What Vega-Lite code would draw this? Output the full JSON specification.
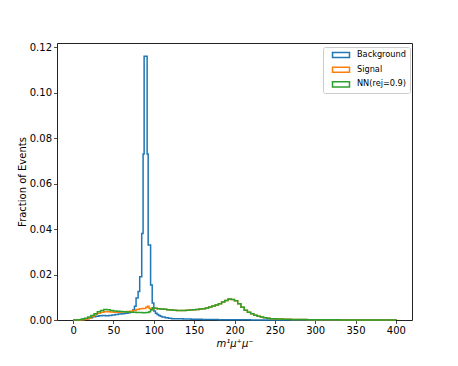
{
  "$schema": "https://vega.github.io/schema/vega-lite/v6.json",
  "width": 355,
  "height": 277,
  "autosize": "none",
  "padding": {"left": 57, "top": 43, "right": 46, "bottom": 46},
  "config": {
    "font": "DejaVu Sans",
    "view": {"stroke": "#222222", "strokeWidth": 1},
    "axis": {
      "grid": false,
      "domain": false,
      "tickColor": "#222222",
      "tickSize": 3.5,
      "tickWidth": 0.8,
      "labelFontSize": 10,
      "labelColor": "#000000",
      "labelPadding": 2,
      "titleFontSize": 10,
      "titleFontWeight": "normal",
      "titleColor": "#000000"
    }
  },
  "datasets": {
    "hist": [
      {"s": "Background", "x": 0, "y": 0},
      {"s": "Background", "x": 8, "y": 0.0001},
      {"s": "Background", "x": 12, "y": 0.0003},
      {"s": "Background", "x": 16, "y": 0.0006},
      {"s": "Background", "x": 20, "y": 0.001},
      {"s": "Background", "x": 24, "y": 0.0014},
      {"s": "Background", "x": 28, "y": 0.0017},
      {"s": "Background", "x": 32, "y": 0.0019},
      {"s": "Background", "x": 36, "y": 0.002},
      {"s": "Background", "x": 40, "y": 0.0019},
      {"s": "Background", "x": 44, "y": 0.002},
      {"s": "Background", "x": 48, "y": 0.0022},
      {"s": "Background", "x": 52, "y": 0.0024},
      {"s": "Background", "x": 56, "y": 0.0026},
      {"s": "Background", "x": 60, "y": 0.0028},
      {"s": "Background", "x": 64, "y": 0.003},
      {"s": "Background", "x": 68, "y": 0.0032},
      {"s": "Background", "x": 71, "y": 0.0036},
      {"s": "Background", "x": 74, "y": 0.0045},
      {"s": "Background", "x": 76, "y": 0.006},
      {"s": "Background", "x": 78, "y": 0.0097},
      {"s": "Background", "x": 80.5, "y": 0.0125},
      {"s": "Background", "x": 82.5, "y": 0.019},
      {"s": "Background", "x": 85, "y": 0.038},
      {"s": "Background", "x": 86.7, "y": 0.073},
      {"s": "Background", "x": 88, "y": 0.116},
      {"s": "Background", "x": 91.7, "y": 0.073},
      {"s": "Background", "x": 93, "y": 0.033},
      {"s": "Background", "x": 96, "y": 0.0154},
      {"s": "Background", "x": 98, "y": 0.0075},
      {"s": "Background", "x": 100, "y": 0.004},
      {"s": "Background", "x": 102, "y": 0.003},
      {"s": "Background", "x": 104, "y": 0.0024},
      {"s": "Background", "x": 106, "y": 0.002},
      {"s": "Background", "x": 108, "y": 0.0016},
      {"s": "Background", "x": 110, "y": 0.0013},
      {"s": "Background", "x": 114, "y": 0.001},
      {"s": "Background", "x": 118, "y": 0.0008},
      {"s": "Background", "x": 122, "y": 0.0006},
      {"s": "Background", "x": 128, "y": 0.0005},
      {"s": "Background", "x": 136, "y": 0.0004},
      {"s": "Background", "x": 146, "y": 0.0003},
      {"s": "Background", "x": 160, "y": 0.0002},
      {"s": "Background", "x": 180, "y": 0.0001},
      {"s": "Background", "x": 220, "y": 0.00005},
      {"s": "Background", "x": 300, "y": 0.00002},
      {"s": "Background", "x": 400, "y": 0},

      {"s": "Signal", "x": 0, "y": 0},
      {"s": "Signal", "x": 10, "y": 0.0001},
      {"s": "Signal", "x": 14, "y": 0.0003},
      {"s": "Signal", "x": 18, "y": 0.0008},
      {"s": "Signal", "x": 22, "y": 0.0015},
      {"s": "Signal", "x": 26, "y": 0.0024},
      {"s": "Signal", "x": 30, "y": 0.003},
      {"s": "Signal", "x": 34, "y": 0.0034},
      {"s": "Signal", "x": 38, "y": 0.0036},
      {"s": "Signal", "x": 42, "y": 0.0036},
      {"s": "Signal", "x": 46, "y": 0.0035},
      {"s": "Signal", "x": 50, "y": 0.0034},
      {"s": "Signal", "x": 54, "y": 0.0034},
      {"s": "Signal", "x": 58, "y": 0.0035},
      {"s": "Signal", "x": 62, "y": 0.0036},
      {"s": "Signal", "x": 66, "y": 0.0037},
      {"s": "Signal", "x": 70, "y": 0.0039},
      {"s": "Signal", "x": 74, "y": 0.0042},
      {"s": "Signal", "x": 78, "y": 0.0046},
      {"s": "Signal", "x": 82, "y": 0.0049},
      {"s": "Signal", "x": 86, "y": 0.0051},
      {"s": "Signal", "x": 90, "y": 0.0056},
      {"s": "Signal", "x": 92, "y": 0.006},
      {"s": "Signal", "x": 94, "y": 0.0052},
      {"s": "Signal", "x": 96, "y": 0.0045},
      {"s": "Signal", "x": 98, "y": 0.005},
      {"s": "Signal", "x": 100, "y": 0.0052},
      {"s": "Signal", "x": 104, "y": 0.005},
      {"s": "Signal", "x": 108, "y": 0.0048},
      {"s": "Signal", "x": 112, "y": 0.0047},
      {"s": "Signal", "x": 116, "y": 0.0045},
      {"s": "Signal", "x": 120, "y": 0.0044},
      {"s": "Signal", "x": 124, "y": 0.0043},
      {"s": "Signal", "x": 128, "y": 0.0042},
      {"s": "Signal", "x": 132, "y": 0.0042},
      {"s": "Signal", "x": 136, "y": 0.0042},
      {"s": "Signal", "x": 140, "y": 0.0043},
      {"s": "Signal", "x": 144, "y": 0.0044},
      {"s": "Signal", "x": 148, "y": 0.0045},
      {"s": "Signal", "x": 152, "y": 0.0046},
      {"s": "Signal", "x": 156, "y": 0.0048},
      {"s": "Signal", "x": 160, "y": 0.005},
      {"s": "Signal", "x": 164, "y": 0.0053},
      {"s": "Signal", "x": 168, "y": 0.0057},
      {"s": "Signal", "x": 172, "y": 0.0062},
      {"s": "Signal", "x": 176, "y": 0.0066},
      {"s": "Signal", "x": 180, "y": 0.0072},
      {"s": "Signal", "x": 184, "y": 0.0079},
      {"s": "Signal", "x": 188, "y": 0.0086},
      {"s": "Signal", "x": 192, "y": 0.0092},
      {"s": "Signal", "x": 196, "y": 0.009},
      {"s": "Signal", "x": 200, "y": 0.0085},
      {"s": "Signal", "x": 204, "y": 0.0072},
      {"s": "Signal", "x": 208, "y": 0.0056},
      {"s": "Signal", "x": 212, "y": 0.0043},
      {"s": "Signal", "x": 216, "y": 0.0034},
      {"s": "Signal", "x": 220, "y": 0.0027},
      {"s": "Signal", "x": 224, "y": 0.0021},
      {"s": "Signal", "x": 228, "y": 0.0017},
      {"s": "Signal", "x": 232, "y": 0.0013},
      {"s": "Signal", "x": 236, "y": 0.001},
      {"s": "Signal", "x": 240, "y": 0.0008},
      {"s": "Signal", "x": 244, "y": 0.0006},
      {"s": "Signal", "x": 248, "y": 0.0005},
      {"s": "Signal", "x": 252, "y": 0.0004},
      {"s": "Signal", "x": 260, "y": 0.0003},
      {"s": "Signal", "x": 270, "y": 0.0002},
      {"s": "Signal", "x": 290, "y": 0.0001},
      {"s": "Signal", "x": 330, "y": 0.00005},
      {"s": "Signal", "x": 380, "y": 0.00002},
      {"s": "Signal", "x": 400, "y": 0},

      {"s": "NN(rej=0.9)", "x": 0, "y": 0},
      {"s": "NN(rej=0.9)", "x": 6, "y": 0.0001},
      {"s": "NN(rej=0.9)", "x": 10, "y": 0.0004},
      {"s": "NN(rej=0.9)", "x": 14, "y": 0.0008},
      {"s": "NN(rej=0.9)", "x": 18, "y": 0.0013},
      {"s": "NN(rej=0.9)", "x": 22, "y": 0.002},
      {"s": "NN(rej=0.9)", "x": 26, "y": 0.0028},
      {"s": "NN(rej=0.9)", "x": 30, "y": 0.0036},
      {"s": "NN(rej=0.9)", "x": 34, "y": 0.0042},
      {"s": "NN(rej=0.9)", "x": 38, "y": 0.0046},
      {"s": "NN(rej=0.9)", "x": 42, "y": 0.0045},
      {"s": "NN(rej=0.9)", "x": 46, "y": 0.0042},
      {"s": "NN(rej=0.9)", "x": 50, "y": 0.004},
      {"s": "NN(rej=0.9)", "x": 54, "y": 0.0038},
      {"s": "NN(rej=0.9)", "x": 58, "y": 0.0037},
      {"s": "NN(rej=0.9)", "x": 62, "y": 0.0036},
      {"s": "NN(rej=0.9)", "x": 66, "y": 0.0035},
      {"s": "NN(rej=0.9)", "x": 70, "y": 0.0034},
      {"s": "NN(rej=0.9)", "x": 74, "y": 0.0034},
      {"s": "NN(rej=0.9)", "x": 78, "y": 0.0033},
      {"s": "NN(rej=0.9)", "x": 82, "y": 0.0033},
      {"s": "NN(rej=0.9)", "x": 86, "y": 0.0032},
      {"s": "NN(rej=0.9)", "x": 90, "y": 0.0033},
      {"s": "NN(rej=0.9)", "x": 94, "y": 0.0036},
      {"s": "NN(rej=0.9)", "x": 96, "y": 0.0045},
      {"s": "NN(rej=0.9)", "x": 98, "y": 0.0054},
      {"s": "NN(rej=0.9)", "x": 100, "y": 0.0052},
      {"s": "NN(rej=0.9)", "x": 104, "y": 0.005},
      {"s": "NN(rej=0.9)", "x": 108, "y": 0.0048},
      {"s": "NN(rej=0.9)", "x": 112, "y": 0.0047},
      {"s": "NN(rej=0.9)", "x": 116, "y": 0.0045},
      {"s": "NN(rej=0.9)", "x": 120, "y": 0.0044},
      {"s": "NN(rej=0.9)", "x": 124, "y": 0.0043},
      {"s": "NN(rej=0.9)", "x": 128, "y": 0.0042},
      {"s": "NN(rej=0.9)", "x": 132, "y": 0.0042},
      {"s": "NN(rej=0.9)", "x": 136, "y": 0.0042},
      {"s": "NN(rej=0.9)", "x": 140, "y": 0.0043},
      {"s": "NN(rej=0.9)", "x": 144, "y": 0.0044},
      {"s": "NN(rej=0.9)", "x": 148, "y": 0.0045},
      {"s": "NN(rej=0.9)", "x": 152, "y": 0.0046},
      {"s": "NN(rej=0.9)", "x": 156, "y": 0.0048},
      {"s": "NN(rej=0.9)", "x": 160, "y": 0.005},
      {"s": "NN(rej=0.9)", "x": 164, "y": 0.0053},
      {"s": "NN(rej=0.9)", "x": 168, "y": 0.0057},
      {"s": "NN(rej=0.9)", "x": 172, "y": 0.0062},
      {"s": "NN(rej=0.9)", "x": 176, "y": 0.0066},
      {"s": "NN(rej=0.9)", "x": 180, "y": 0.0072},
      {"s": "NN(rej=0.9)", "x": 184, "y": 0.0079},
      {"s": "NN(rej=0.9)", "x": 188, "y": 0.0086},
      {"s": "NN(rej=0.9)", "x": 192, "y": 0.0092},
      {"s": "NN(rej=0.9)", "x": 196, "y": 0.009},
      {"s": "NN(rej=0.9)", "x": 200, "y": 0.0085},
      {"s": "NN(rej=0.9)", "x": 204, "y": 0.0072},
      {"s": "NN(rej=0.9)", "x": 208, "y": 0.0056},
      {"s": "NN(rej=0.9)", "x": 212, "y": 0.0043},
      {"s": "NN(rej=0.9)", "x": 216, "y": 0.0034},
      {"s": "NN(rej=0.9)", "x": 220, "y": 0.0027},
      {"s": "NN(rej=0.9)", "x": 224, "y": 0.0021},
      {"s": "NN(rej=0.9)", "x": 228, "y": 0.0017},
      {"s": "NN(rej=0.9)", "x": 232, "y": 0.0013},
      {"s": "NN(rej=0.9)", "x": 236, "y": 0.001},
      {"s": "NN(rej=0.9)", "x": 240, "y": 0.0008},
      {"s": "NN(rej=0.9)", "x": 244, "y": 0.0006},
      {"s": "NN(rej=0.9)", "x": 248, "y": 0.0005},
      {"s": "NN(rej=0.9)", "x": 252, "y": 0.0004},
      {"s": "NN(rej=0.9)", "x": 260, "y": 0.0003},
      {"s": "NN(rej=0.9)", "x": 270, "y": 0.0002},
      {"s": "NN(rej=0.9)", "x": 290, "y": 0.0001},
      {"s": "NN(rej=0.9)", "x": 330, "y": 0.00005},
      {"s": "NN(rej=0.9)", "x": 380, "y": 0.00002},
      {"s": "NN(rej=0.9)", "x": 400, "y": 0}
    ]
  },
  "data": {"name": "hist"},
  "mark": {"type": "line", "interpolate": "step-after", "strokeWidth": 1.5},
  "encoding": {
    "x": {
      "field": "x",
      "type": "quantitative",
      "scale": {"domain": [-20, 420], "nice": false, "zero": false},
      "axis": {
        "values": [0, 50, 100, 150, 200, 250, 300, 350, 400],
        "title": "m¹μ⁺μ⁻",
        "titleFontStyle": "italic",
        "titlePadding": 3
      }
    },
    "y": {
      "field": "y",
      "type": "quantitative",
      "scale": {"domain": [0, 0.1218], "nice": false},
      "axis": {
        "values": [0, 0.02, 0.04, 0.06, 0.08, 0.1, 0.12],
        "format": ".2f",
        "title": "Fraction of Events",
        "titlePadding": 2
      }
    },
    "color": {
      "field": "s",
      "type": "nominal",
      "scale": {
        "domain": ["Background", "Signal", "NN(rej=0.9)"],
        "range": ["#1f77b4", "#ff7f0e", "#2ca02c"]
      },
      "legend": {
        "title": null,
        "orient": "none",
        "legendX": 266,
        "legendY": 4,
        "padding": 3,
        "strokeColor": "#cccccc",
        "fillColor": "#ffffff",
        "cornerRadius": 2,
        "symbolType": "M-2,-0.6H2V0.6H-2Z",
        "symbolSize": 72,
        "symbolStrokeWidth": 1.5,
        "symbolOffset": 10,
        "labelOffset": 11,
        "labelFontSize": 8.2,
        "labelColor": "#000000",
        "rowPadding": 2.7
      }
    }
  }
}
